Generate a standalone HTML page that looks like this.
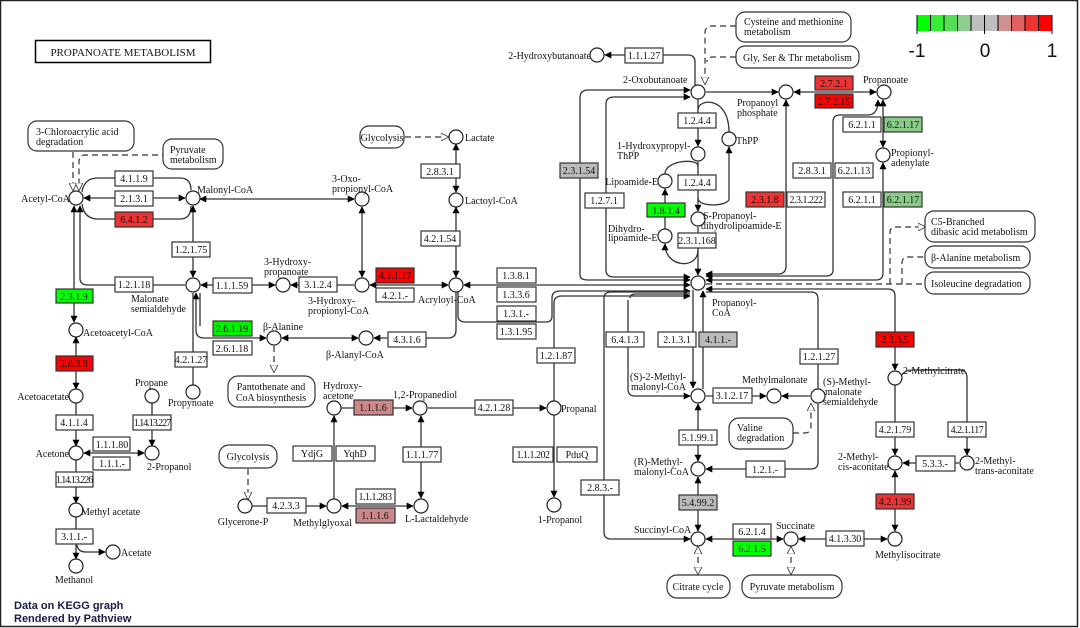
<!DOCTYPE html>
<html><head><meta charset="utf-8"><style>
html,body{margin:0;padding:0;background:#fff}
svg{display:block}
.l{stroke:#333;stroke-width:1.3;fill:none}
.d{stroke:#333;stroke-width:1.2;fill:none;stroke-dasharray:6,4}
.c{fill:#fff;stroke:#222;stroke-width:1.2}
.e{fill:#fff;stroke:#333;stroke-width:1.2}
text{font-family:"Liberation Serif",serif;font-size:10px;fill:#111}
.t{text-anchor:middle}
.m{text-anchor:middle}
.r{text-anchor:end}
.rb{fill:#fff;stroke:#333;stroke-width:1.2}
</style></head><body>
<svg width="1080" height="628" viewBox="0 0 1080 628" xmlns="http://www.w3.org/2000/svg">
<defs>
<marker id="a" viewBox="0 0 10 10" refX="9" refY="5" markerWidth="7" markerHeight="7" orient="auto-start-reverse" markerUnits="userSpaceOnUse"><path d="M0,0L10,5L0,10z" fill="#000"/></marker>
<marker id="o" viewBox="0 0 10 10" refX="9" refY="5" markerWidth="8" markerHeight="8" orient="auto-start-reverse" markerUnits="userSpaceOnUse"><path d="M0,0L10,5L0,10z" fill="#fff" stroke="#333"/></marker>
</defs>
<rect x="0.5" y="0.5" width="1077" height="626" fill="#fff" stroke="#222" stroke-width="1.5"/>

<!-- title -->
<rect x="35.5" y="40.5" width="175" height="22" fill="#fff" stroke="#000" stroke-width="1.5"/>
<text x="123" y="56" class="m" style="font-size:11px">PROPANOATE  METABOLISM</text>

<!-- legend -->
<rect x="917" y="15" width="13.5" height="16" fill="#00ff00"/>
<rect x="930.5" y="15" width="13.5" height="16" fill="#33ee33"/>
<rect x="944" y="15" width="13.5" height="16" fill="#55dd55"/>
<rect x="957.5" y="15" width="13.5" height="16" fill="#8fcc8f"/>
<rect x="971" y="15" width="13.5" height="16" fill="#bebebe"/>
<rect x="984.5" y="15" width="13.5" height="16" fill="#bebebe"/>
<rect x="998" y="15" width="13.5" height="16" fill="#d09090"/>
<rect x="1011.5" y="15" width="13.5" height="16" fill="#e06060"/>
<rect x="1025" y="15" width="13.5" height="16" fill="#ee3333"/>
<rect x="1038.5" y="15" width="13.5" height="16" fill="#ff0000"/>
<g stroke="#000" stroke-width="1"><line x1="917" y1="15" x2="917" y2="34"/><line x1="930.5" y1="15" x2="930.5" y2="31"/><line x1="944" y1="15" x2="944" y2="31"/><line x1="957.5" y1="15" x2="957.5" y2="31"/><line x1="971" y1="15" x2="971" y2="31"/><line x1="984.5" y1="15" x2="984.5" y2="34"/><line x1="998" y1="15" x2="998" y2="31"/><line x1="1011.5" y1="15" x2="1011.5" y2="31"/><line x1="1025" y1="15" x2="1025" y2="31"/><line x1="1038.5" y1="15" x2="1038.5" y2="31"/><line x1="1052" y1="15" x2="1052" y2="34"/></g>
<text x="917" y="57" class="m" style="font-family:'Liberation Sans',sans-serif;font-size:19px">-1</text>
<text x="985" y="57" class="m" style="font-family:'Liberation Sans',sans-serif;font-size:19px">0</text>
<text x="1052" y="57" class="m" style="font-family:'Liberation Sans',sans-serif;font-size:19px">1</text>

<!-- ===== LINES ===== -->
<!-- Acetyl / Malonyl loops -->
<path class="l" d="M82,192 Q84,178 98,178 L180,178 Q191,178 191,190"/>
<path class="l" d="M82,204 Q84,219 98,219 L180,219 Q191,219 191,206"/>
<line class="l" x1="84" y1="198" x2="185" y2="198" marker-start="url(#a)" marker-end="url(#a)"/>
<line class="l" x1="200" y1="199" x2="354" y2="199" marker-start="url(#a)" marker-end="url(#a)"/>
<line class="l" x1="362" y1="207" x2="362" y2="277" marker-start="url(#a)" marker-end="url(#a)"/>
<line class="l" x1="193" y1="206" x2="193" y2="277" marker-start="url(#a)" marker-end="url(#a)"/>
<path class="l" d="M80,206 L80,278 Q80,285 88,285 L185,285" marker-start="url(#a)"/>
<line class="l" x1="74" y1="206" x2="74" y2="322" marker-start="url(#a)" marker-end="url(#a)"/>
<line class="l" x1="201" y1="285" x2="275" y2="285" marker-start="url(#a)" marker-end="url(#a)"/>
<line class="l" x1="291" y1="285" x2="354" y2="285" marker-start="url(#a)"/>
<line class="l" x1="370" y1="285" x2="448" y2="285" marker-start="url(#a)" marker-end="url(#a)"/>
<line class="l" x1="464" y1="285" x2="690" y2="285" marker-start="url(#a)" marker-end="url(#a)"/>
<line class="l" x1="456" y1="144" x2="456" y2="192" marker-start="url(#a)" marker-end="url(#a)"/>
<line class="l" x1="456" y1="207" x2="456" y2="277" marker-start="url(#a)" marker-end="url(#a)"/>
<path class="d" d="M405,137 L448,137" marker-end="url(#o)"/>
<!-- dashed to acetyl-CoA -->
<path class="d" d="M73,152 L73,190" marker-end="url(#o)"/>
<path class="d" d="M168,155 L85,155 Q79,155 79,162 L79,190" marker-end="url(#o)"/>
<!-- beta alanine etc -->
<path class="l" d="M196,293 L196,330 Q196,338 204,338 L266,338" marker-start="url(#a)" marker-end="url(#a)"/>
<line class="l" x1="200" y1="293" x2="200" y2="326"/>
<line class="l" x1="193" y1="293" x2="193" y2="385"/>
<line class="l" x1="282" y1="338" x2="358" y2="338" marker-start="url(#a)" marker-end="url(#a)"/>
<path class="l" d="M456,292 L456,330 Q456,338 448,338 L374,338" marker-end="url(#a)"/>
<path class="d" d="M274,346 L274,372" marker-end="url(#o)"/>
<!-- 1.3.x branch -->
<path class="l" d="M458,292 L458,316 Q458,322 466,322 L546,322 Q552,322 552,316 L552,298 Q552,291 560,291 L690,291" marker-end="url(#a)"/>
<path class="l" d="M554,401 L554,303 Q554,296 562,296 L690,296" marker-end="url(#a)"/>
<!-- left column -->
<line class="l" x1="76" y1="337" x2="76" y2="389" marker-start="url(#a)" marker-end="url(#a)"/>
<line class="l" x1="76" y1="403" x2="76" y2="446" marker-end="url(#a)"/>
<line class="l" x1="84" y1="453" x2="144" y2="453" marker-start="url(#a)" marker-end="url(#a)"/>
<line class="l" x1="152" y1="403" x2="152" y2="446" marker-end="url(#a)"/>
<line class="l" x1="76" y1="460" x2="76" y2="503" marker-end="url(#a)"/>
<line class="l" x1="76" y1="517" x2="76" y2="559" marker-end="url(#a)"/>
<path class="l" d="M77,545 Q78,552 86,552 L105,552" marker-end="url(#a)"/>
<!-- bottom middle -->
<path class="d" d="M248,469 L248,499" marker-end="url(#o)"/>
<line class="l" x1="252" y1="506" x2="326" y2="506" marker-end="url(#a)"/>
<line class="l" x1="334" y1="499" x2="334" y2="416" marker-end="url(#a)"/>
<line class="l" x1="342" y1="506" x2="413" y2="506" marker-start="url(#a)" marker-end="url(#a)"/>
<line class="l" x1="341" y1="408" x2="412" y2="408" marker-end="url(#a)"/>
<line class="l" x1="421" y1="416" x2="421" y2="498" marker-start="url(#a)" marker-end="url(#a)"/>
<line class="l" x1="428" y1="408" x2="546" y2="408" marker-end="url(#a)"/>
<line class="l" x1="554" y1="415" x2="554" y2="497" marker-end="url(#a)"/>

<!-- right top -->
<path class="l" d="M695,85 L695,62 Q695,55 688,55 L605,55" marker-end="url(#a)"/>
<path class="d" d="M736,26 L712,26 Q705,26 705,33 L705,84" marker-end="url(#o)"/>
<path class="d" d="M736,57 L713,57 Q707,57 707,62"/>
<line class="l" x1="706" y1="92" x2="778" y2="92" marker-end="url(#a)"/>
<line class="l" x1="794" y1="92" x2="876" y2="92" marker-start="url(#a)" marker-end="url(#a)"/>
<line class="l" x1="698" y1="99" x2="698" y2="146" marker-end="url(#a)"/>
<line class="l" x1="698" y1="162" x2="698" y2="211" marker-end="url(#a)"/>
<line class="l" x1="698" y1="227" x2="698" y2="275" marker-end="url(#a)"/>
<path class="l" d="M698,110 C698,98 729,96 729,132"/>
<path class="l" d="M729,199 C729,206 698,208 698,198 M729,199 L729,147" marker-end="url(#a)"/>
<path class="l" d="M665,174 C665,160 698,158 698,166"/>
<line class="l" x1="665" y1="229" x2="665" y2="189" marker-end="url(#a)"/>
<path class="l" d="M698,250 C698,270 665,268 665,244" marker-end="url(#a)"/>
<path class="l" d="M580,275 L580,98 Q580,90 588,90 L690,90" marker-end="url(#a)"/>
<path class="l" d="M580,275 Q580,280 588,280 L690,280" marker-end="url(#a)"/>
<path class="l" d="M606,270 L606,104 Q606,97 614,97 L690,97" marker-end="url(#a)"/>
<path class="l" d="M606,270 Q606,277 614,277 L690,277" marker-end="url(#a)"/>
<path class="l" d="M786,100 L786,266 Q786,274 778,274 L706,274" marker-start="url(#a)" marker-end="url(#a)"/>
<path class="l" d="M878,100 Q878,115 868,115 L840,115 Q833,115 833,122 L833,270 Q833,276 826,276 L706,276" marker-start="url(#a)" marker-end="url(#a)"/>
<line class="l" x1="883" y1="100" x2="883" y2="147" marker-start="url(#a)" marker-end="url(#a)"/>
<path class="l" d="M883,163 L883,273 Q883,280 876,280 L706,280" marker-start="url(#a)" marker-end="url(#a)"/>
<!-- dashed hub right -->
<path class="d" d="M706,284 L925,284"/>
<path class="d" d="M890,284 L890,232 Q890,227 896,227 L925,227" marker-end="url(#o)"/>
<path class="d" d="M902,284 L902,263 Q902,257 908,257 L925,257"/>
<!-- hub down -->
<path class="l" d="M706,289 L888,289 Q895,289 895,296 L895,370" marker-start="url(#a)" marker-end="url(#a)"/>
<path class="l" d="M706,292 L811,292 Q818,292 818,299 L818,389"/>
<path class="l" d="M818,404 L818,462 Q818,469 811,469 L706,469" marker-end="url(#a)"/>
<line class="l" x1="693" y1="290" x2="693" y2="388" marker-end="url(#a)"/>
<line class="l" x1="703" y1="389" x2="703" y2="291" marker-end="url(#a)"/>
<path class="l" d="M628,300 L628,389 Q628,396 635,396 L690,396" marker-end="url(#a)"/>
<path class="l" d="M630,298 Q630,294 636,294 L690,294"/>
<path class="l" d="M604,298 L604,532 Q604,539 611,539 L690,539" marker-end="url(#a)"/>
<path class="l" d="M604,298 Q604,292 611,292 L690,292"/>
<line class="l" x1="706" y1="396" x2="766" y2="396" marker-end="url(#a)"/>
<line class="l" x1="810" y1="396" x2="782" y2="396" marker-end="url(#a)"/>
<path class="d" d="M793,433 L805,433 Q811,433 811,426 L811,404" marker-end="url(#o)"/>
<line class="l" x1="698" y1="461" x2="698" y2="404" marker-start="url(#a)" marker-end="url(#a)"/>
<line class="l" x1="698" y1="531" x2="698" y2="477" marker-start="url(#a)" marker-end="url(#a)"/>
<line class="l" x1="706" y1="539" x2="783" y2="539" marker-start="url(#a)" marker-end="url(#a)"/>
<line class="l" x1="799" y1="539" x2="887" y2="539" marker-start="url(#a)" marker-end="url(#a)"/>
<path class="d" d="M698,547 L698,574" marker-start="url(#o)" marker-end="url(#o)"/>
<path class="d" d="M791,547 L791,574" marker-start="url(#o)" marker-end="url(#o)"/>
<line class="l" x1="895" y1="385" x2="895" y2="455" marker-end="url(#a)"/>
<path class="l" d="M902,375 Q905,370 912,370 L960,370 Q967,370 967,378 L967,455" marker-end="url(#a)"/>
<line class="l" x1="959" y1="463" x2="903" y2="463" marker-end="url(#a)"/>
<line class="l" x1="895" y1="471" x2="895" y2="531" marker-start="url(#a)" marker-end="url(#a)"/>

<!-- ===== ENZYME BOXES ===== -->
<g>
<rect class="e" x="115" y="171" width="38" height="15"/><text class="t" x="134" y="182">4.1.1.9</text>
<rect class="e" x="115" y="191" width="38" height="15"/><text class="t" x="134" y="202">2.1.3.1</text>
<rect class="e" x="115" y="212" width="38" height="15" style="fill:#ee3333"/><text class="t" x="134" y="223">6.4.1.2</text>
<rect class="e" x="172" y="242" width="38" height="15"/><text class="t" x="191" y="253">1.2.1.75</text>
<rect class="e" x="115" y="277" width="38" height="15"/><text class="t" x="134" y="288">1.2.1.18</text>
<rect class="e" x="213" y="278" width="39" height="15"/><text class="t" x="232" y="289">1.1.1.59</text>
<rect class="e" x="299" y="277" width="38" height="15"/><text class="t" x="318" y="288">3.1.2.4</text>
<rect class="e" x="376" y="268" width="38" height="15" style="fill:#ff0000"/><text class="t" x="395" y="279">4.2.1.17</text>
<rect class="e" x="376" y="288" width="38" height="14"/><text class="t" x="395" y="299">4.2.1.-</text>
<rect class="e" x="421" y="164" width="39" height="14"/><text class="t" x="440" y="175">2.8.3.1</text>
<rect class="e" x="421" y="231" width="39" height="15"/><text class="t" x="440" y="242">4.2.1.54</text>
<rect class="e" x="497" y="268" width="39" height="15"/><text class="t" x="516" y="279">1.3.8.1</text>
<rect class="e" x="497" y="287" width="39" height="15"/><text class="t" x="516" y="298">1.3.3.6</text>
<rect class="e" x="497" y="306" width="39" height="15"/><text class="t" x="516" y="317">1.3.1.-</text>
<rect class="e" x="497" y="324" width="39" height="15"/><text class="t" x="516" y="335">1.3.1.95</text>
<rect class="e" x="56" y="289" width="37" height="14" style="fill:#00ff00"/><text class="t" x="74" y="300">2.3.1.9</text>
<rect class="e" x="56" y="356" width="37" height="15" style="fill:#ff0000"/><text class="t" x="74" y="367">2.8.3.8</text>
<rect class="e" x="56" y="415" width="37" height="15"/><text class="t" x="74" y="426">4.1.1.4</text>
<rect class="e" x="93" y="437" width="37" height="14"/><text class="t" x="112" y="448">1.1.1.80</text>
<rect class="e" x="93" y="457" width="37" height="13"/><text class="t" x="112" y="467">1.1.1.-</text>
<rect class="e" x="133" y="415" width="38" height="15"/><text class="t" x="152" y="426" style="letter-spacing:-1px">1.14.13.227</text>
<rect class="e" x="56" y="472" width="37" height="15"/><text class="t" x="74" y="483" style="letter-spacing:-1px">1.14.13.226</text>
<rect class="e" x="56" y="529" width="37" height="15"/><text class="t" x="74" y="540">3.1.1.-</text>
<rect class="e" x="175" y="352" width="32" height="15"/><text class="t" x="191" y="363">4.2.1.27</text>
<rect class="e" x="213" y="321" width="39" height="15" style="fill:#00ee00"/><text class="t" x="232" y="332">2.6.1.19</text>
<rect class="e" x="213" y="341" width="39" height="14"/><text class="t" x="232" y="352">2.6.1.18</text>
<rect class="e" x="388" y="332" width="38" height="15"/><text class="t" x="407" y="343">4.3.1.6</text>
<rect class="e" x="354" y="400" width="39" height="15" style="fill:#cc8888"/><text class="t" x="373" y="411">1.1.1.6</text>
<rect class="e" x="475" y="400" width="38" height="15"/><text class="t" x="494" y="411">4.2.1.28</text>
<rect class="e" x="537" y="348" width="38" height="15"/><text class="t" x="556" y="359">1.2.1.87</text>
<rect class="e" x="513" y="447" width="40" height="15"/><text class="t" x="533" y="458" style="letter-spacing:-0.5px">1.1.1.202</text>
<rect class="e" x="557" y="447" width="40" height="15"/><text class="t" x="577" y="458">PduQ</text>
<rect class="e" x="403" y="447" width="38" height="15"/><text class="t" x="422" y="458">1.1.1.77</text>
<rect class="e" x="293" y="446" width="39" height="15"/><text class="t" x="312" y="457">YdjG</text>
<rect class="e" x="336" y="446" width="39" height="15"/><text class="t" x="355" y="457">YqhD</text>
<rect class="e" x="267" y="498" width="39" height="15"/><text class="t" x="286" y="509">4.2.3.3</text>
<rect class="e" x="356" y="489" width="39" height="15"/><text class="t" x="375" y="500" style="letter-spacing:-0.5px">1.1.1.283</text>
<rect class="e" x="356" y="508" width="39" height="15" style="fill:#cc8888"/><text class="t" x="375" y="519">1.1.1.6</text>

<rect class="e" x="625" y="48" width="38" height="15"/><text class="t" x="644" y="59">1.1.1.27</text>
<rect class="e" x="815" y="76" width="38" height="14" style="fill:#ee3333"/><text class="t" x="834" y="87">2.7.2.1</text>
<rect class="e" x="815" y="94" width="38" height="14" style="fill:#ff0000"/><text class="t" x="834" y="105">2.7.2.15</text>
<rect class="e" x="843" y="117" width="38" height="15"/><text class="t" x="862" y="128">6.2.1.1</text>
<rect class="e" x="884" y="117" width="38" height="15" style="fill:#88cc88"/><text class="t" x="903" y="128">6.2.1.17</text>
<rect class="e" x="793" y="163" width="38" height="15"/><text class="t" x="812" y="174">2.8.3.1</text>
<rect class="e" x="835" y="163" width="38" height="15"/><text class="t" x="854" y="174">6.2.1.13</text>
<rect class="e" x="843" y="192" width="38" height="15"/><text class="t" x="862" y="203">6.2.1.1</text>
<rect class="e" x="884" y="192" width="38" height="15" style="fill:#88cc88"/><text class="t" x="903" y="203">6.2.1.17</text>
<rect class="e" x="746" y="192" width="38" height="15" style="fill:#ee3333"/><text class="t" x="765" y="203">2.3.1.8</text>
<rect class="e" x="787" y="192" width="38" height="15"/><text class="t" x="806" y="203" style="letter-spacing:-0.5px">2.3.1.222</text>
<rect class="e" x="678" y="113" width="38" height="15"/><text class="t" x="697" y="124">1.2.4.4</text>
<rect class="e" x="678" y="175" width="38" height="15"/><text class="t" x="697" y="186">1.2.4.4</text>
<rect class="e" x="647" y="203" width="38" height="14" style="fill:#00ff00"/><text class="t" x="666" y="214">1.8.1.4</text>
<rect class="e" x="678" y="233" width="38" height="15"/><text class="t" x="697" y="244">2.3.1.168</text>
<rect class="e" x="560" y="163" width="38" height="15" style="fill:#bbbbbb"/><text class="t" x="579" y="174">2.3.1.54</text>
<rect class="e" x="585" y="193" width="39" height="15"/><text class="t" x="604" y="204">1.2.7.1</text>
<rect class="e" x="606" y="332" width="38" height="15"/><text class="t" x="625" y="343">6.4.1.3</text>
<rect class="e" x="658" y="332" width="38" height="15"/><text class="t" x="677" y="343">2.1.3.1</text>
<rect class="e" x="699" y="332" width="38" height="15" style="fill:#bbbbbb"/><text class="t" x="718" y="343">4.1.1.-</text>
<rect class="e" x="800" y="349" width="38" height="15"/><text class="t" x="819" y="360">1.2.1.27</text>
<rect class="e" x="713" y="388" width="39" height="15"/><text class="t" x="732" y="399">3.1.2.17</text>
<rect class="e" x="679" y="430" width="38" height="15"/><text class="t" x="698" y="441">5.1.99.1</text>
<rect class="e" x="746" y="461" width="39" height="16"/><text class="t" x="765" y="473">1.2.1.-</text>
<rect class="e" x="581" y="480" width="38" height="15"/><text class="t" x="600" y="491">2.8.3.-</text>
<rect class="e" x="679" y="495" width="38" height="15" style="fill:#bbbbbb"/><text class="t" x="698" y="506">5.4.99.2</text>
<rect class="e" x="733" y="524" width="38" height="15"/><text class="t" x="752" y="535">6.2.1.4</text>
<rect class="e" x="733" y="541" width="38" height="15" style="fill:#00ff00"/><text class="t" x="752" y="552">6.2.1.5</text>
<rect class="e" x="826" y="531" width="38" height="15"/><text class="t" x="845" y="542">4.1.3.30</text>
<rect class="e" x="876" y="332" width="38" height="15" style="fill:#ff0000"/><text class="t" x="895" y="343">2.3.3.5</text>
<rect class="e" x="876" y="422" width="38" height="15"/><text class="t" x="895" y="433">4.2.1.79</text>
<rect class="e" x="948" y="422" width="38" height="15"/><text class="t" x="967" y="433" style="letter-spacing:-0.5px">4.2.1.117</text>
<rect class="e" x="916" y="456" width="39" height="15"/><text class="t" x="935" y="467">5.3.3.-</text>
<rect class="e" x="876" y="494" width="38" height="15" style="fill:#ee3333"/><text class="t" x="895" y="505">4.2.1.99</text>
</g>

<!-- ===== MAP BOXES ===== -->
<rect class="rb" x="28" y="121" width="106" height="30" rx="9"/><text x="36" y="135">3-Chloroacrylic acid</text><text x="36" y="145">degradation</text>
<rect class="rb" x="163" y="139" width="60" height="30" rx="9"/><text x="170" y="153">Pyruvate</text><text x="170" y="163">metabolism</text>
<rect class="rb" x="360" y="126" width="44" height="22" rx="9"/><text class="m" x="382" y="141">Glycolysis</text>
<rect class="rb" x="228" y="376" width="87" height="31" rx="10"/><text class="m" x="271" y="390">Pantothenate and</text><text class="m" x="271" y="401">CoA biosynthesis</text>
<rect class="rb" x="219" y="445" width="58" height="23" rx="10"/><text class="m" x="248" y="460">Glycolysis</text>
<rect class="rb" x="736" y="12" width="115" height="30" rx="9"/><text x="744" y="25">Cysteine and methionine</text><text x="744" y="35">metabolism</text>
<rect class="rb" x="736" y="46" width="123" height="22" rx="9"/><text x="743" y="61">Gly, Ser &amp; Thr metabolism</text>
<rect class="rb" x="925" y="211" width="110" height="31" rx="9"/><text x="931" y="225">C5-Branched</text><text x="931" y="235">dibasic acid metabolism</text>
<rect class="rb" x="925" y="246" width="105" height="22" rx="9"/><text x="931" y="261">β-Alanine metabolism</text>
<rect class="rb" x="925" y="272" width="105" height="22" rx="9"/><text x="931" y="287">Isoleucine degradation</text>
<rect class="rb" x="729" y="418" width="64" height="31" rx="10"/><text x="737" y="431">Valine</text><text x="737" y="441">degradation</text>
<rect class="rb" x="667" y="575" width="63" height="23" rx="10"/><text class="m" x="698" y="590">Citrate cycle</text>
<rect class="rb" x="742" y="575" width="100" height="23" rx="10"/><text class="m" x="792" y="590">Pyruvate metabolism</text>

<!-- ===== COMPOUNDS ===== -->
<g class="c">
<circle cx="76" cy="198" r="7"/><circle cx="193" cy="198" r="7"/><circle cx="362" cy="199" r="7"/>
<circle cx="456" cy="137" r="7"/><circle cx="456" cy="200" r="7"/><circle cx="456" cy="285" r="7"/>
<circle cx="362" cy="285" r="7"/><circle cx="283" cy="285" r="7"/><circle cx="193" cy="285" r="7"/>
<circle cx="76" cy="330" r="7"/><circle cx="76" cy="396" r="7"/><circle cx="76" cy="453" r="7"/>
<circle cx="152" cy="453" r="7"/><circle cx="152" cy="396" r="7"/><circle cx="193" cy="392" r="7"/>
<circle cx="76" cy="510" r="7"/><circle cx="113" cy="552" r="7"/><circle cx="76" cy="566" r="7"/>
<circle cx="274" cy="338" r="7"/><circle cx="366" cy="338" r="7"/>
<circle cx="334" cy="408" r="7"/><circle cx="420" cy="408" r="7"/><circle cx="554" cy="408" r="7"/>
<circle cx="554" cy="505" r="7"/><circle cx="245" cy="506" r="7"/><circle cx="334" cy="506" r="7"/><circle cx="421" cy="506" r="7"/>
<circle cx="597" cy="55" r="7"/><circle cx="698" cy="92" r="7"/><circle cx="786" cy="92" r="7"/><circle cx="884" cy="92" r="7"/>
<circle cx="883" cy="155" r="7"/><circle cx="729" cy="139" r="7"/><circle cx="698" cy="154" r="7"/>
<circle cx="665" cy="181" r="7"/><circle cx="665" cy="236" r="7"/><circle cx="698" cy="219" r="7"/>
<circle cx="698" cy="283" r="7"/>
<circle cx="698" cy="396" r="7"/><circle cx="774" cy="396" r="7"/><circle cx="818" cy="396" r="7"/>
<circle cx="698" cy="469" r="7"/><circle cx="698" cy="539" r="7"/><circle cx="791" cy="539" r="7"/><circle cx="895" cy="539" r="7"/>
<circle cx="895" cy="378" r="7"/><circle cx="895" cy="463" r="7"/><circle cx="967" cy="463" r="7"/>
</g>

<!-- ===== LABELS ===== -->
<text class="r" x="70" y="202">Acetyl-CoA</text>
<text x="197" y="193">Malonyl-CoA</text>
<text x="332" y="182">3-Oxo-</text><text x="332" y="192">propionyl-CoA</text>
<text x="465" y="141">Lactate</text>
<text x="465" y="204">Lactoyl-CoA</text>
<text x="418" y="303">Acryloyl-CoA</text>
<text x="308" y="304">3-Hydroxy-</text><text x="308" y="314">propionyl-CoA</text>
<text x="264" y="265">3-Hydroxy-</text><text x="264" y="275">propanoate</text>
<text x="131" y="302">Malonate</text><text x="131" y="312">semialdehyde</text>
<text x="83" y="336">Acetoacetyl-CoA</text>
<text class="r" x="69" y="400">Acetoacetate</text>
<text class="r" x="69" y="457">Acetone</text>
<text x="147" y="470">2-Propanol</text>
<text x="135" y="386">Propane</text>
<text x="168" y="406">Propynoate</text>
<text x="81" y="515">Methyl acetate</text>
<text x="121" y="556">Acetate</text>
<text class="m" x="74" y="583">Methanol</text>
<text x="263" y="330">β-Alanine</text>
<text x="326" y="358">β-Alanyl-CoA</text>
<text x="323" y="389">Hydroxy-</text><text x="323" y="399">acetone</text>
<text x="393" y="398">1,2-Propanediol</text>
<text x="561" y="412">Propanal</text>
<text class="m" x="560" y="523">1-Propanol</text>
<text class="m" x="243" y="525">Glycerone-P</text>
<text x="293" y="526">Methylglyoxal</text>
<text x="405" y="522">L-Lactaldehyde</text>
<text class="r" x="591" y="59">2-Hydroxybutanoate</text>
<text x="623" y="83">2-Oxobutanoate</text>
<text x="737" y="106">Propanoyl</text><text x="737" y="116">phosphate</text>
<text x="863" y="83">Propanoate</text>
<text x="891" y="156">Propionyl-</text><text x="891" y="166">adenylate</text>
<text x="736" y="144">ThPP</text>
<text x="617" y="149">1-Hydroxypropyl-</text><text x="617" y="159">ThPP</text>
<text class="r" x="658" y="185">Lipoamide-E</text>
<text x="608" y="232">Dihydro-</text><text x="608" y="241">lipoamide-E</text>
<text x="703" y="219">S-Propanoyl-</text><text x="701" y="229">dihydrolipoamide-E</text>
<text x="712" y="306">Propanoyl-</text><text x="712" y="316">CoA</text>
<text x="630" y="380">(S)-2-Methyl-</text><text x="631" y="390">malonyl-CoA</text>
<text x="742" y="383">Methylmalonate</text>
<text x="823" y="385">(S)-Methyl-</text><text x="825" y="395">malonate</text><text x="823" y="405">semialdehyde</text>
<text x="634" y="465">(R)-Methyl-</text><text x="634" y="475">malonyl-CoA</text>
<text x="634" y="533">Succinyl-CoA</text>
<text x="776" y="529">Succinate</text>
<text x="875" y="558">Methylisocitrate</text>
<text x="903" y="374">2-Methylcitrate</text>
<text x="838" y="460">2-Methyl-</text><text x="838" y="470">cis-aconitate</text>
<text x="975" y="464">2-Methyl-</text><text x="975" y="474">trans-aconitate</text>

<!-- footer -->
<text x="14" y="609" style="font-family:'Liberation Sans',sans-serif;font-size:11px;font-weight:bold;fill:#1a1a4a">Data on KEGG graph</text>
<text x="14" y="622" style="font-family:'Liberation Sans',sans-serif;font-size:11px;font-weight:bold;fill:#1a1a4a">Rendered by Pathview</text>
</svg>
</body></html>
